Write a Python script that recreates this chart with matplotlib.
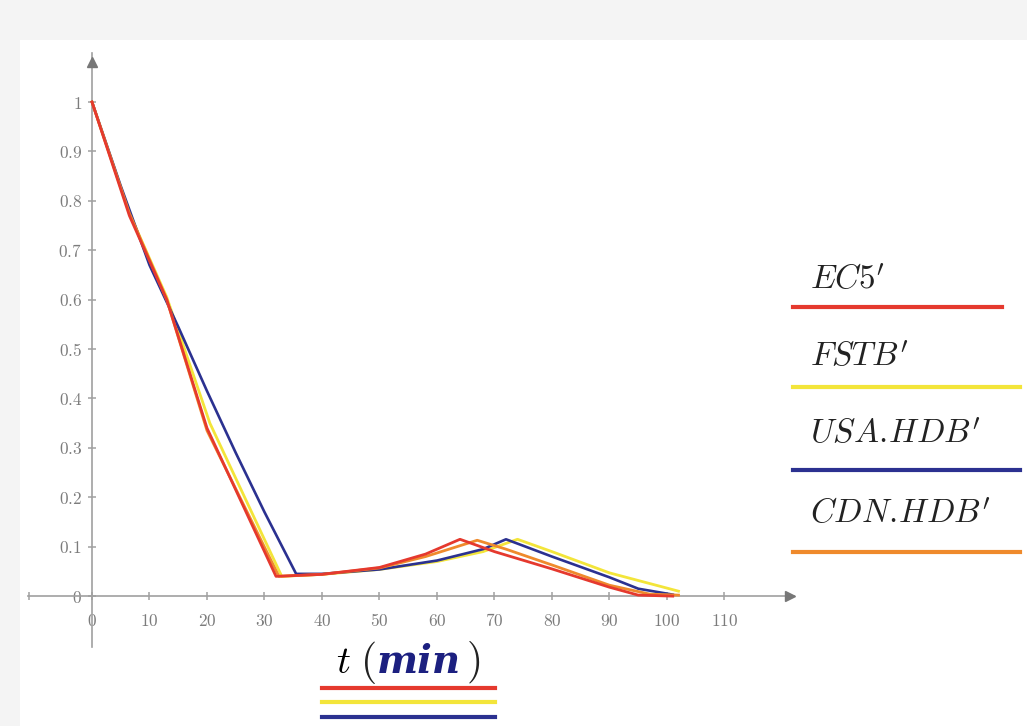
import matplotlib
matplotlib.use("Agg")
import matplotlib.pyplot as plt
from matplotlib.lines import Line2D
from matplotlib.patches import Rectangle
from matplotlib.ticker import FuncFormatter

plt.rcParams['mathtext.fontset'] = 'cm'
plt.rcParams['font.family'] = ['DejaVu Serif']

# ---- data ----
series_labels = [r"$\mathit{EC5}'$", r"$\mathit{FSTB}'$", r"$\mathit{USA.\!HDB}'$", r"$\mathit{CDN.\!HDB}'$"]
series_colors = ['#e5392e', '#f3e53a', '#2b3190', '#ef8a2c']

t_ec5 = [0, 6.5, 13, 20, 32, 40, 50, 58, 64, 70, 80, 90, 95, 101]
v_ec5 = [1.0, 0.77, 0.60, 0.34, 0.04, 0.044, 0.058, 0.085, 0.115, 0.09, 0.055, 0.018, 0.002, 0.0]

t_fstb = [0, 6.5, 13, 20.5, 33, 40, 50, 60, 68, 74, 80, 90, 102]
v_fstb = [1.0, 0.775, 0.605, 0.35, 0.04, 0.044, 0.054, 0.07, 0.09, 0.115, 0.09, 0.047, 0.01]

t_usa = [0, 5, 10, 15, 20, 25, 30, 35.5, 40, 50, 60, 68, 72, 80, 90, 95, 101]
v_usa = [1.0, 0.83, 0.67, 0.545, 0.415, 0.29, 0.17, 0.045, 0.045, 0.054, 0.072, 0.095, 0.115, 0.08, 0.038, 0.015, 0.003]

t_cdn = [0, 6.5, 13, 20, 32.5, 40, 50, 58, 67, 72, 80, 90, 97, 102]
v_cdn = [1.0, 0.775, 0.60, 0.335, 0.04, 0.044, 0.057, 0.08, 0.113, 0.095, 0.063, 0.022, 0.004, 0.002]

x_ticks = [0, 10, 20, 30, 40, 50, 60, 70, 80, 90, 100, 110]
y_ticks = [0, 0.1, 0.2, 0.3, 0.4, 0.5, 0.6, 0.7, 0.8, 0.9, 1.0]

# ---- figure ----
W, H = 1027, 726
fig = plt.figure(figsize=(W / 100, H / 100), dpi=100, facecolor='#f4f4f4')

def fx(px):
    return px / W

def fy(py):
    return 1 - py / H

fig.patches.append(Rectangle((fx(20), 0), 1 - fx(20), fy(40), transform=fig.transFigure,
                             facecolor='white', edgecolor='none', zorder=-5))

left_px, right_px = 28, 793.5
top_px, bot_px = 52.6, 647
ax = fig.add_axes([fx(left_px), fy(bot_px), (right_px - left_px) / W, (bot_px - top_px) / H])
ax.set_zorder(1)
ax.patch.set_visible(False)
ax.set_xlim(-11.13, 122)
ax.set_ylim(-0.103, 1.10)

axis_col = '#a0a0a0'
for s in ['top', 'right']:
    ax.spines[s].set_visible(False)
for s in ['left', 'bottom']:
    ax.spines[s].set_position(('data', 0))
    ax.spines[s].set_color(axis_col)
    ax.spines[s].set_linewidth(1.2)

ax.plot(0.995, 0, marker='>', color='#777777', markersize=7, transform=ax.get_yaxis_transform(),
        clip_on=False, zorder=6)
ax.plot(0, 0.985, marker='^', color='#777777', markersize=7, transform=ax.get_xaxis_transform(),
        clip_on=False, zorder=6)

ax.set_xticks(x_ticks)
ax.set_yticks(y_ticks)
ax.set_xticks([-11.0], minor=True)
fmt = FuncFormatter(lambda v, p: f"${v:g}$")
ax.xaxis.set_major_formatter(fmt)
ax.yaxis.set_major_formatter(fmt)
ax.tick_params(axis='both', which='both', direction='inout', length=6, width=1.1, color=axis_col,
               labelcolor='#7c7c7c', labelsize=12.5)
ax.tick_params(axis='x', pad=9)
ax.tick_params(axis='y', pad=4)

ax.plot(t_fstb, v_fstb, color=series_colors[1], lw=2.0, zorder=3)
ax.plot(t_usa, v_usa, color=series_colors[2], lw=1.9, zorder=4)
ax.plot(t_cdn, v_cdn, color=series_colors[3], lw=2.0, zorder=4)
ax.plot(t_ec5, v_ec5, color=series_colors[0], lw=2.0, zorder=5)

# ---- x label ----
fig.text(fx(343), fy(673), r"$t$", fontsize=28, color='black', ha='center', va='baseline')
fig.text(fx(368), fy(673), r"$($", fontsize=30, color='#222222', ha='center', va='baseline')
fig.text(fx(419), fy(673), "min", fontsize=28, color='#1c2080', ha='center', va='baseline',
         fontstyle='italic', fontweight='bold', family='DejaVu Serif')
fig.text(fx(473), fy(673), r"$)$", fontsize=30, color='#222222', ha='center', va='baseline')
for yy, c in zip([688, 702, 717], series_colors[:3]):
    fig.add_artist(Line2D([fx(322), fx(495)], [fy(yy), fy(yy)], color=c, lw=3,
                          transform=fig.transFigure))

# ---- legend at right ----
text_y = [281, 358, 435, 515]
line_y = [307, 387, 470, 552]
line_end = [1002, 1020, 1020, 1020]
for lab, c, ty, ly, le in zip(series_labels, series_colors, text_y, line_y, line_end):
    fig.text(fx(810), fy(ty), lab, fontsize=24, color='#222222', ha='left', va='center')
    fig.add_artist(Line2D([fx(793), fx(le)], [fy(ly), fy(ly)], color=c, lw=3,
                          transform=fig.transFigure))

fig.savefig('out.png', dpi=100, facecolor=fig.get_facecolor())
